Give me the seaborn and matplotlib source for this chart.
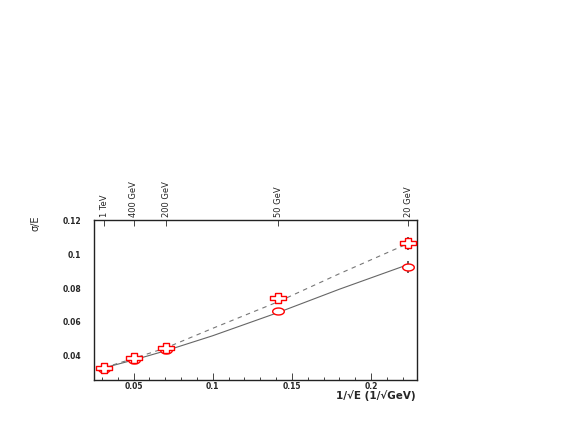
import matplotlib

matplotlib.use("Agg")
import matplotlib.pyplot as plt
from matplotlib.ticker import FuncFormatter, MultipleLocator
import numpy as np
import pandas as pd
import seaborn as sns

# beam energies and their 1/sqrt(E) positions
energy_labels = ["1 TeV", "400 GeV", "200 GeV", "50 GeV", "20 GeV"]
energy_gev = [1000, 400, 200, 50, 20]
inv_sqrt_e = [1 / np.sqrt(e) for e in energy_gev]

# measured resolution, two configurations
res_circle = [0.0317, 0.0366, 0.0427, 0.0657, 0.0922]
err_circle = [0.0005, 0.0006, 0.0008, 0.0010, 0.0036]
res_cross = [0.0318, 0.0378, 0.0437, 0.0733, 0.1060]
err_cross = [0.0005, 0.0008, 0.0010, 0.0015, 0.0040]

# fitted curves
fit_x = [0.0316, 0.05, 0.0707, 0.10, 0.1414, 0.18, 0.2236]
fit_solid = [0.0322, 0.0368, 0.0424, 0.0512, 0.0650, 0.0788, 0.0935]
fit_dashed = [0.0323, 0.0377, 0.0441, 0.0556, 0.0714, 0.0880, 0.1060]

sns.set_style("white")
plt.rcParams["font.family"] = ["DejaVu Sans"]

fig = plt.figure(figsize=(5.8, 4.27), dpi=100)
ax = fig.add_axes([0.162, 0.108, 0.557, 0.375])

fits = pd.DataFrame({"x": fit_x, "solid": fit_solid, "dashed": fit_dashed})
sns.lineplot(data=fits, x="x", y="solid", ax=ax, color="#666666", lw=0.8, sort=False)
sns.lineplot(data=fits, x="x", y="dashed", ax=ax, color="#777777", lw=0.8,
             linestyle=(0, (4, 4)), sort=False)

ax.errorbar(inv_sqrt_e, res_circle, yerr=err_circle, fmt="none", ecolor="#444444", elinewidth=1.2)
ax.errorbar(inv_sqrt_e, res_cross, yerr=err_cross, fmt="none", ecolor="#444444", elinewidth=1.2)

# flattened open markers like the original
t = np.linspace(0, 2 * np.pi, 40)
ellipse = list(zip(np.cos(t), 0.6 * np.sin(t)))
a, b, c = 0.33, 0.6, 0.22
plus = [(-a, b), (a, b), (a, c), (1, c), (1, -c), (a, -c),
        (a, -b), (-a, -b), (-a, -c), (-1, -c), (-1, c), (-a, c), (-a, b)]

pts = pd.DataFrame({"x": inv_sqrt_e, "circle": res_circle, "cross": res_cross})
sns.scatterplot(data=pts, x="x", y="circle", ax=ax, marker=ellipse, s=70,
                facecolor="white", edgecolor="red", linewidth=1, zorder=3)
sns.scatterplot(data=pts, x="x", y="cross", ax=ax, marker=plus, s=120,
                facecolor="white", edgecolor="red", linewidth=1, zorder=3)

ax.set_xlim(0.025, 0.229)
ax.set_ylim(0.025, 0.12)
ax.xaxis.set_major_locator(MultipleLocator(0.05))
ax.xaxis.set_minor_locator(MultipleLocator(0.01))
ax.yaxis.set_major_locator(MultipleLocator(0.02))
ax.yaxis.set_minor_locator(MultipleLocator(0.005))
fmt = FuncFormatter(lambda v, p: f"{v:g}" if v >= 0.039 else "")
ax.xaxis.set_major_formatter(fmt)
ax.yaxis.set_major_formatter(fmt)
ax.tick_params(axis="both", which="both", direction="in", labelsize=5.5, top=False, right=False)
ax.tick_params(which="major", length=5, width=0.6)
ax.tick_params(which="minor", length=2.5, width=0.6)
ax.tick_params(axis="y", pad=9)
ax.tick_params(axis="x", pad=1)
for lbl in ax.get_xticklabels() + ax.get_yticklabels():
    lbl.set_fontweight("bold")
for sp in ax.spines.values():
    sp.set_linewidth(1.0)
    sp.set_color("#222222")

ax.set_xlabel("")
ax.set_ylabel("")
fig.text(0.716, 0.073, "1/\u221aE (1/\u221aGeV)", ha="right", va="center",
         fontsize=7.5, fontweight="bold")
fig.text(0.062, 0.478, "\u03c3/E", rotation=90, ha="center", va="center", fontsize=7)

top = ax.twiny()
top.set_xlim(ax.get_xlim())
top.set_xticks(inv_sqrt_e)
top.set_xticklabels(energy_labels, rotation=90, fontsize=6,
                    family=["Liberation Sans Narrow", "DejaVu Sans"])
top.tick_params(axis="x", direction="in", length=4, width=0.6, pad=3)
top.xaxis.set_minor_locator(plt.NullLocator())
for sp in top.spines.values():
    sp.set_visible(False)

fig.savefig("out.png", dpi=100)
